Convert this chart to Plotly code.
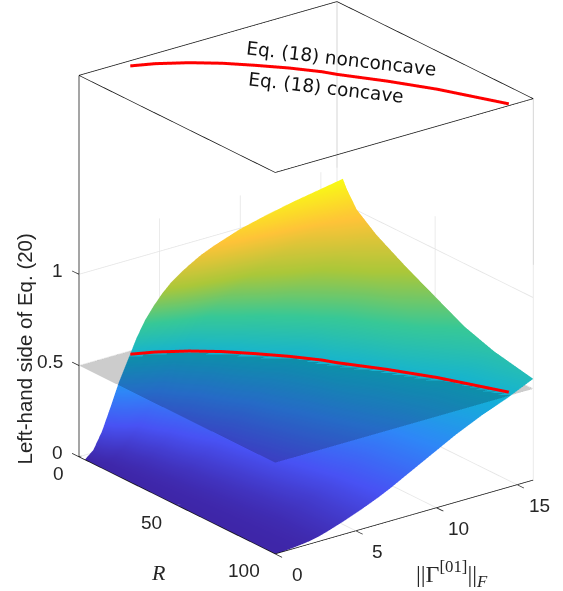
import plotly.graph_objects as go

R_VALUES = [3, 5, 10, 20, 35, 50, 65, 80, 100]
GAMMA_VALUES = [0, 0.53, 1.07, 1.6, 2.13, 2.67, 3.2, 3.73, 4.27, 4.8, 5.33, 5.87, 6.4, 7.2, 8, 9.6, 11.2, 12.8, 14.4, 16]
# Each list holds one R value, along GAMMA_VALUES
Z_R3 = [0, .04, .13, .25, .375, .48, .585, .67, .735, .79, .835, .87, .90, .94, .97, 1.02, 1.055, 1.085, 1.11, 1.135]
Z_R5 = [0, .03, .10, .19, .30, .385, .47, .545, .62, .69, .75, .80, .84, .885, .925, .98, 1.015, 1.045, 1.07, 1.09]
Z_R10 = [0, .009, .03, .065, .12, .18, .25, .32, .39, .46, .52, .575, .62, .68, .73, .81, .875, .925, .975, 1.005]
Z_R20 = [0, .006, .017, .035, .065, .105, .15, .20, .25, .30, .355, .41, .465, .53, .585, .68, .75, .81, .875, .92]
Z_R35 = [0, .004, .012, .022, .04, .06, .09, .12, .155, .19, .23, .27, .315, .38, .435, .525, .625, .70, .775, .825]
Z_R50 = [0, .004, .009, .017, .028, .045, .065, .09, .12, .15, .18, .215, .25, .30, .35, .46, .53, .62, .69, .74]
Z_R65 = [0, .003, .007, .014, .022, .035, .05, .07, .095, .12, .145, .17, .20, .245, .29, .385, .46, .54, .605, .655]
Z_R80 = [0, .003, .006, .012, .018, .026, .04, .055, .07, .09, .115, .14, .165, .20, .24, .32, .41, .47, .53, .60]
Z_R100 = [0, .002, .005, .01, .016, .026, .04, .056, .072, .09, .108, .128, .148, .182, .22, .295, .37, .435, .49, .555]

CURVE_R = [3.4, 6.6, 12.3, 18.8, 26.3, 34.4, 43, 47.5, 61.2, 75.8, 98.8]
CURVE_GAMMA = [2.77, 3.93, 5.34, 6.59, 7.72, 8.84, 9.84, 10.22, 11.65, 12.97, 14.63]
CURVE_LEVEL = 0.51
PLANE_LEVEL = 0.5

R_MAX = 100
GAMMA_MAX = 16
Z_TOP = 2.09
Z_GRID_TOP = 1.18
R_TICKS = [0, 50, 100]
GAMMA_TICKS = [0, 5, 10, 15]
Z_TICKS = [0, 0.5, 1]
Z_TICK_TEXT = ["0", "0.5", "1"]
R_TICK_LEN = 3.5
GAMMA_TICK_LEN = 0.5

PARULA = [[0, "#3e26a8"], [1/7, "#4852f4"], [2/7, "#2e87f7"], [3/7, "#12b1d6"],
          [4/7, "#37c897"], [5/7, "#abc739"], [6/7, "#fec338"], [1, "#f9fb15"]]
FLAT = dict(ambient=1, diffuse=0, specular=0, roughness=1, fresnel=0)

fig = go.Figure()

fig.add_trace(go.Surface(
    x=R_VALUES, y=GAMMA_VALUES,
    z=[list(c) for c in zip(Z_R3, Z_R5, Z_R10, Z_R20, Z_R35, Z_R50, Z_R65, Z_R80, Z_R100)],
    colorscale=PARULA, cmin=0, cmax=1.135, showscale=False, lighting=FLAT, hoverinfo="skip"))

fig.add_trace(go.Surface(
    x=[0, R_MAX], y=[0, GAMMA_MAX], z=[[PLANE_LEVEL] * 2] * 2,
    surfacecolor=[[0, 0], [0, 0]], colorscale=[[0, "#000000"], [1, "#000000"]],
    opacity=0.2, showscale=False, lighting=FLAT, hoverinfo="skip"))


def line(pairs, color, width):
    xs, ys, zs = [], [], []
    for a, b in pairs:
        xs += [a[0], b[0], None]
        ys += [a[1], b[1], None]
        zs += [a[2], b[2], None]
    fig.add_trace(go.Scatter3d(x=xs, y=ys, z=zs, mode="lines",
                               line=dict(color=color, width=width),
                               showlegend=False, hoverinfo="skip"))


grid = [((0, 0, 0), (0, GAMMA_MAX, 0)),
        ((0, GAMMA_MAX, 0), (0, GAMMA_MAX, Z_GRID_TOP)),
        ((R_MAX, GAMMA_MAX, 0), (R_MAX, GAMMA_MAX, Z_GRID_TOP))]
for g in GAMMA_TICKS[1:]:
    grid.append(((0, g, 0), (0, g, Z_GRID_TOP)))
    grid.append(((0, g, 0), (R_MAX, g, 0)))
for r in R_TICKS[1:2]:
    grid.append(((r, GAMMA_MAX, 0), (r, GAMMA_MAX, Z_GRID_TOP)))
    grid.append(((r, 0, 0), (r, GAMMA_MAX, 0)))
for z in Z_TICKS[1:]:
    grid.append(((0, 0, z), (0, GAMMA_MAX, z)))
    grid.append(((0, GAMMA_MAX, z), (R_MAX, GAMMA_MAX, z)))
line(grid, "#e4e4e4", 1.5)

line([((0, GAMMA_MAX, Z_GRID_TOP), (0, GAMMA_MAX, Z_TOP)),
      ((R_MAX, GAMMA_MAX, Z_GRID_TOP), (R_MAX, GAMMA_MAX, Z_TOP))], "#c8c8c8", 1.5)

ticks = []
for r in R_TICKS:
    ticks.append(((r, 0, 0), (r, GAMMA_TICK_LEN, 0)))
for g in GAMMA_TICKS:
    ticks.append(((R_MAX, g, 0), (R_MAX + R_TICK_LEN, g, 0)))
for z in Z_TICKS:
    ticks.append(((0, 0, z), (-R_TICK_LEN, 0, z)))
line(ticks, "#262626", 1.5)

line([((0, 0, Z_TOP), (0, GAMMA_MAX, Z_TOP)),
      ((0, GAMMA_MAX, Z_TOP), (R_MAX, GAMMA_MAX, Z_TOP)),
      ((R_MAX, GAMMA_MAX, Z_TOP), (R_MAX, 0, Z_TOP)),
      ((R_MAX, 0, Z_TOP), (0, 0, Z_TOP)),
      ((0, 0, 0), (0, 0, Z_TOP)),
      ((0, 0, 0), (R_MAX, 0, 0)),
      ((R_MAX, 0, 0), (R_MAX, GAMMA_MAX, 0))], "#111111", 1.5)

for level in (CURVE_LEVEL, Z_TOP):
    fig.add_trace(go.Scatter3d(x=CURVE_R, y=CURVE_GAMMA, z=[level] * len(CURVE_R),
                               mode="lines", line=dict(color="#ff0000", width=6),
                               showlegend=False, hoverinfo="skip"))

TICK_FONT = dict(family="Liberation Sans, Arial", size=19, color="#262626")
tick_labels = []
for r in R_TICKS:
    tick_labels.append(dict(x=r, y=0, z=0, text=str(r), showarrow=False, xanchor="right",
                            xshift=-13, yshift=-17, font=TICK_FONT))
for g in GAMMA_TICKS:
    tick_labels.append(dict(x=R_MAX, y=g, z=0, text=str(g), showarrow=False, xanchor="center",
                            xshift=22, yshift=-20.5, font=TICK_FONT))
for z, t in zip(Z_TICKS, Z_TICK_TEXT):
    tick_labels.append(dict(x=0, y=0, z=z, text=t, showarrow=False, xanchor="right",
                            xshift=-14, yshift=4, font=TICK_FONT))

hidden = dict(showgrid=False, zeroline=False, showline=False, showbackground=False,
              showspikes=False, ticks="", showticklabels=False, title=dict(text=""),
              autorange=False)


def paper(px, py, text, angle, font):
    return dict(text=text, x=px / 563, y=1 - py / 591, xref="paper", yref="paper",
                xanchor="center", yanchor="middle", showarrow=False, textangle=angle, font=font)


fig.update_layout(
    width=563, height=591, paper_bgcolor="white",
    margin=dict(l=0, r=0, t=0, b=0), showlegend=False,
    scene=dict(
        domain=dict(x=[0, 1], y=[0, 1]),
        xaxis=dict(hidden, range=[-R_TICK_LEN - 0.5, R_MAX + R_TICK_LEN + 0.5]),
        yaxis=dict(hidden, range=[0, GAMMA_MAX]),
        zaxis=dict(hidden, range=[0, Z_TOP]),
        aspectmode="manual", aspectratio=dict(x=1.185, y=1.097, z=1.393),
        annotations=tick_labels,
        camera=dict(projection=dict(type="orthographic"),
                    center=dict(x=-0.0323, y=-0.08, z=-0.0557),
                    eye=dict(x=1.4187, y=-1.183, z=0.6843),
                    up=dict(x=0, y=0, z=1)),
    ),
    annotations=[
        paper(341, 58, "Eq. (18) nonconcave", 6.5, dict(family="DejaVu Sans", size=18.5, color="#111111")),
        paper(326, 88, "Eq. (18) concave", 6.5, dict(family="DejaVu Sans", size=18.5, color="#111111")),
        paper(24, 349.5, "Left-hand side of Eq. (20)", -90, dict(family="Liberation Sans, Arial", size=20.5, color="#262626")),
        paper(158, 572, "<i>R</i>", 0, dict(family="Liberation Serif", size=22, color="#262626")),
        paper(452, 574, "||Γ<sup>[01]</sup>||<sub><i>F</i></sub>", 0, dict(family="Liberation Serif", size=24, color="#262626")),
    ],
)

fig.write_html("out.html", config={"displayModeBar": False},
               post_script="document.body.style.margin='0';")
